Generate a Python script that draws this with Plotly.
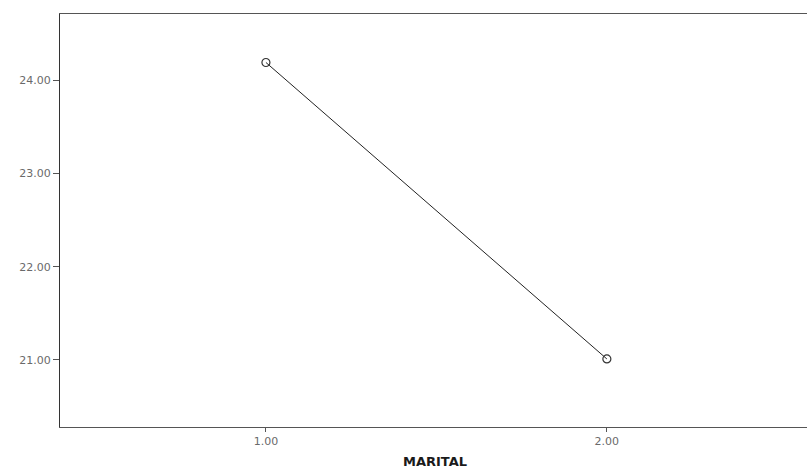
import plotly.graph_objects as go

# Data
marital = [1.0, 2.0]
means = [24.19, 21.01]
x_ticks = [1.0, 2.0]
x_tick_labels = ["1.00", "2.00"]
y_ticks = [21.0, 22.0, 23.0, 24.0]
y_tick_labels = ["21.00", "22.00", "23.00", "24.00"]

fig = go.Figure()
fig.add_trace(go.Scatter(
    x=marital, y=means, mode="lines+markers",
    line=dict(color="#222222", width=1),
    marker=dict(symbol="circle-open", size=8, color="#333333", line=dict(width=1.2)),
    showlegend=False,
))

tick_font = dict(family="DejaVu Sans, sans-serif", size=11, color="#6a6a6a")

fig.update_layout(
    width=807, height=468,
    margin=dict(l=60, r=0, t=14, b=41),
    paper_bgcolor="white", plot_bgcolor="white",
    font=dict(family="DejaVu Sans, sans-serif", color="#555555", size=11),
    xaxis=dict(
        range=[0.396, 2.587], tickvals=x_ticks, ticktext=x_tick_labels,
        showgrid=False, zeroline=False, showline=True, mirror=True,
        linecolor="#555555", linewidth=1, ticks="outside", ticklen=4,
        tickcolor="#555555", tickfont=tick_font,
    ),
    yaxis=dict(
        range=[20.28, 24.71], tickvals=y_ticks, ticktext=y_tick_labels,
        showgrid=False, zeroline=False, showline=True, mirror=False,
        linecolor="#333333", linewidth=1, ticks="outside", ticklen=6,
        tickcolor="#555555", tickfont=tick_font,
    ),
    annotations=[dict(
        text="<b>MARITAL</b>", xref="paper", yref="paper",
        x=0.502, y=-0.083, xanchor="center", yanchor="middle",
        showarrow=False,
        font=dict(family="DejaVu Sans, sans-serif", size=13, color="#1a1a1a"),
    )],
)

fig.write_html("out.html")
